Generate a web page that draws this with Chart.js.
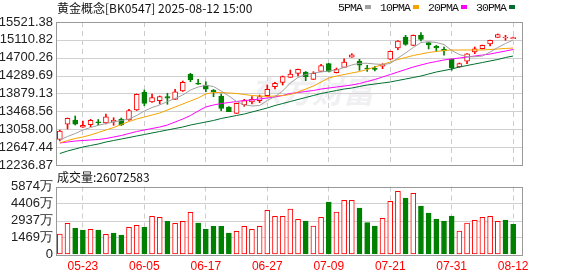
<!DOCTYPE html>
<html>
<head>
<meta charset="utf-8">
<script src="https://cdn.jsdelivr.net/npm/chart.js@4.4.1/dist/chart.umd.min.js"></script>
<style>
  body { margin: 0; background: #fff; }
  #wrap { position: relative; width: 578px; height: 276px; background: #fff; overflow: hidden; }
  #wrap canvas { position: absolute; left: 0; top: 0; }
  .txt { position: absolute; font: 12px "Noto Sans CJK SC", "Liberation Sans", sans-serif; color: #111; white-space: nowrap; line-height: 14px; }
  #maLegend { font: 11.5px "Liberation Mono", monospace; line-height: 14px; letter-spacing: -0.9px; }
  .box { display: inline-block; width: 6px; height: 4px; margin: 0 9px 1px 3px; vertical-align: middle; }
</style>
</head>
<body>
<div id="wrap">
  <canvas id="kChart" width="578" height="276"></canvas>
  <canvas id="volChart" width="578" height="276"></canvas>
  <div class="txt" style="left:57px;top:1px">黄金概念[BK0547] 2025-08-12 15:00</div>
  <div class="txt" id="maLegend" style="left:338px;top:1px"></div>
  <div class="txt" style="left:57px;top:170px">成交量:26072583</div>
</div>
<script>
// trading days shown on the chart
var dates = [
  "05-20", "05-21", "05-22", "05-23", "05-26", "05-27", "05-28", "05-29", "05-30", "06-03",
  "06-04", "06-05", "06-06", "06-09", "06-10", "06-11", "06-12", "06-13", "06-16", "06-17",
  "06-18", "06-19", "06-20", "06-23", "06-24", "06-25", "06-26", "06-27", "06-30", "07-01",
  "07-02", "07-03", "07-04", "07-07", "07-08", "07-09", "07-10", "07-11", "07-14", "07-15",
  "07-16", "07-17", "07-18", "07-21", "07-22", "07-23", "07-24", "07-25", "07-28", "07-29",
  "07-30", "07-31", "08-01", "08-04", "08-05", "08-06", "08-07", "08-08", "08-11", "08-12",
];
var tickDates = ["05-23", "06-05", "06-17", "06-27", "07-09", "07-21", "07-31", "08-12"];

// daily candles (index points)
var opens = [
  12822, 13172, 13270, 13103, 13162, 13224, 13201, 13224, 13293, 13270,
  13500, 13907, 13684, 13714, 13806, 13746, 13936, 14320, 14113, 14074,
  13959, 13822, 13562, 13424, 13622, 13684, 13714, 13829, 14035, 14136,
  14251, 14343, 14373, 14205, 14389, 14564, 14357, 14481, 14711, 14619,
  14465, 14458, 14504, 14665, 14924, 15177, 14986, 15216, 15046, 14963,
  14894, 14665, 14488, 14619, 14832, 14908, 15016, 15170, 15154, 15138,
];
var highs = [
  13041, 13316, 13362, 13247, 13286, 13282, 13408, 13323, 13316, 13516,
  13868, 13959, 13868, 13822, 13884, 13976, 14166, 14343, 14205, 14150,
  13971, 13868, 13580, 13661, 13746, 13806, 13845, 14074, 14136, 14281,
  14419, 14442, 14384, 14380, 14550, 14573, 14465, 14678, 14793, 14665,
  14527, 14504, 14564, 14855, 15096, 15216, 15223, 15276, 15050, 14986,
  14947, 14672, 14580, 14798, 14947, 14993, 15108, 15246, 15216, 15177,
];
var lows = [
  12788, 13064, 13155, 13098, 13116, 13155, 13178, 13149, 13144, 13259,
  13489, 13599, 13672, 13638, 13631, 13741, 13925, 14150, 14090, 13920,
  13806, 13484, 13461, 13420, 13585, 13638, 13668, 13822, 13982, 14074,
  14246, 14281, 14173, 14200, 14384, 14373, 14350, 14476, 14711, 14412,
  14389, 14396, 14449, 14660, 14885, 14986, 14977, 15085, 14901, 14848,
  14757, 14412, 14481, 14564, 14793, 14901, 14970, 15165, 15101, 15138,
];
var closes = [
  13018, 13309, 13172, 13149, 13263, 13208, 13346, 13263, 13155, 13484,
  13861, 13654, 13783, 13806, 13769, 13920, 14136, 14189, 14095, 13976,
  13920, 13539, 13461, 13654, 13714, 13746, 13806, 13976, 14113, 14265,
  14327, 14435, 14265, 14343, 14518, 14389, 14435, 14603, 14770, 14527,
  14442, 14435, 14550, 14848, 15085, 15009, 15216, 15124, 14993, 14924,
  14855, 14465, 14564, 14793, 14908, 14986, 15101, 15230, 15177, 15161,
];

// moving averages
var ma5 = [
  12811, 12891, 12960, 13041, 13098, 13149, 13190, 13224, 13259, 13293,
  13374, 13477, 13557, 13615, 13695, 13764, 13845, 13959, 14028, 14067,
  14040, 13936, 13822, 13695, 13619, 13592, 13603, 13718, 13810, 13936,
  14120, 14247, 14315, 14350, 14373, 14396, 14419, 14476, 14534, 14573,
  14573, 14557, 14545, 14568, 14694, 14809, 14936, 15050, 15069, 15050,
  15004, 14867, 14775, 14724, 14724, 14740, 14832, 14936, 15027, 15108,
];
var ma10 = [
  12742, 12799, 12845, 12880, 12926, 12983, 13041, 13098, 13167, 13236,
  13293, 13339, 13385, 13431, 13500, 13569, 13638, 13707, 13776, 13868,
  13902, 13902, 13891, 13879, 13856, 13833, 13822, 13810, 13822, 13833,
  13856, 13913, 13982, 14051, 14143, 14235, 14281, 14315, 14350, 14384,
  14430, 14488, 14545, 14603, 14660, 14706, 14752, 14786, 14821, 14844,
  14867, 14878, 14878, 14878, 14878, 14878, 14890, 14901, 14913, 14924,
];
var ma20 = [
  12742, 12765, 12788, 12799, 12811, 12822, 12845, 12880, 12914, 12960,
  13006, 13041, 13075, 13110, 13155, 13224, 13293, 13374, 13477, 13569,
  13615, 13649, 13672, 13695, 13718, 13730, 13753, 13776, 13799, 13833,
  13879, 13902, 13925, 13948, 13982, 14005, 14028, 14051, 14074, 14109,
  14155, 14201, 14258, 14315, 14373, 14430, 14488, 14534, 14580, 14614,
  14649, 14672, 14694, 14717, 14740, 14763, 14786, 14821, 14855, 14890,
];
var ma30 = [
  12501, 12558, 12604, 12650, 12685, 12719, 12765, 12799, 12834, 12868,
  12903, 12937, 12972, 13006, 13041, 13075, 13110, 13155, 13190, 13224,
  13259, 13305, 13339, 13374, 13408, 13454, 13500, 13546, 13603, 13649,
  13695, 13741, 13787, 13833, 13879, 13913, 13948, 13982, 14005, 14040,
  14074, 14097, 14120, 14143, 14178, 14212, 14246, 14281, 14327, 14373,
  14407, 14442, 14488, 14522, 14557, 14591, 14626, 14660, 14706, 14740,
];

// volume, in units of 万 (10 000)
var volumes = [
  1771, 2696, 2264, 2117, 2177, 2117, 1745, 1858, 1685, 2350,
  2523, 2350, 3300, 3214, 2868, 2696, 2868, 3646, 2722, 2203,
  2436, 2436, 1858, 2004, 2436, 2177, 2436, 3819, 3300, 3300,
  3920, 3041, 2894, 2462, 3214, 4536, 3672, 4683, 4683, 4018,
  2748, 2462, 3128, 4596, 5460, 4882, 5288, 4190, 3586, 3067,
  2894, 3326, 2030, 2722, 2955, 3214, 3300, 2868, 2981, 2607.26,
];

var priceTicks = [12236.87, 12647.44, 13058.0, 13468.56, 13879.13, 14289.69, 14700.26, 15110.82, 15521.38];
var volTicks = [0, 1469, 2937, 4406, 5874];

var maNames = ["5PMA", "10PMA", "20PMA", "30PMA"];
var maColors = ["#a0a0a0", "#f5a300", "#ff00ff", "#006f2e"];

var RED = "#ff0000";
var GREEN = "#008000";
var AXIS_FONT = { family: "Liberation Sans, Arial, sans-serif", size: 13 };

// candle colour: close vs open; volume colour: close vs previous close
var up = closes.map(function (c, i) { return c >= opens[i]; });
var volUp = closes.map(function (c, i) { return i === 0 ? up[0] : c >= closes[i - 1]; });

// legend: name followed by a little colour block
var legendEl = document.getElementById("maLegend");
maNames.forEach(function (name, i) {
  legendEl.insertAdjacentHTML("beforeend", name + '<span class="box" style="background:' + maColors[i] + '"></span>');
});

// grid + frame, the frame runs a few px past the last candle slot
var framePlugin = {
  id: "frame",
  beforeDatasetsDraw: function (chart, args, opts) {
    var c = chart.ctx, a = chart.chartArea, y = chart.scales.y;
    var right = Math.round(a.right + opts.extra) + 0.5;
    c.save();
    c.strokeStyle = "#d0d0d0";
    c.lineWidth = 1;
    y.ticks.forEach(function (t) {
      var py = Math.round(y.getPixelForValue(t.value)) + 0.5;
      c.beginPath();
      c.moveTo(a.left, py);
      c.lineTo(right, py);
      c.stroke();
    });
    if (opts.watermark) {
      c.fillStyle = "rgba(205, 205, 215, 0.3)";
      c.font = "italic bold 31px 'Noto Sans CJK SC'";
      c.textBaseline = "middle";
      c.fillText(opts.watermark, 250, 91);
    }
    c.restore();
  },
  afterDatasetsDraw: function (chart, args, opts) {
    var c = chart.ctx, a = chart.chartArea;
    var left = Math.round(a.left) + 0.5, top = Math.round(a.top) + 0.5;
    var right = Math.round(a.right + opts.extra) + 0.5, bottom = Math.round(a.bottom) + 0.5;
    c.save();
    c.strokeStyle = "#999";
    c.lineWidth = 1;
    c.strokeRect(left, top, right - left, bottom - top);
    c.restore();
  },
};

function dateTicks(scale) {
  scale.ticks = tickDates.map(function (d) { return { value: dates.indexOf(d) }; });
}

var kCtx = document.getElementById("kChart").getContext("2d");
var kChart = new Chart(kCtx, {
  type: "bar",
  data: {
    labels: dates,
    datasets: [
      // moving average lines on top
      { type: "line", data: ma5, borderColor: maColors[0], borderWidth: 1, pointRadius: 0, order: 0 },
      { type: "line", data: ma10, borderColor: maColors[1], borderWidth: 1, pointRadius: 0, order: 0 },
      { type: "line", data: ma20, borderColor: maColors[2], borderWidth: 1, pointRadius: 0, order: 0 },
      { type: "line", data: ma30, borderColor: maColors[3], borderWidth: 1, pointRadius: 0, order: 0 },
      {
        // candle body: hollow red when up, filled green when down
        data: opens.map(function (o, i) { return [o, closes[i]]; }),
        backgroundColor: up.map(function (u) { return u ? "#ffffff" : GREEN; }),
        borderColor: up.map(function (u) { return u ? RED : GREEN; }),
        borderWidth: 1,
        borderSkipped: false,
        barThickness: 5,
        minBarLength: 1,
        grouped: false,
        order: 1,
      },
      {
        // high-low wick
        data: lows.map(function (l, i) { return [l, highs[i]]; }),
        backgroundColor: up.map(function (u) { return u ? RED : GREEN; }),
        barThickness: 1,
        grouped: false,
        order: 2,
      },
    ],
  },
  options: {
    responsive: false,
    animation: false,
    devicePixelRatio: 1,
    events: [],
    layout: { padding: { left: 0, right: 61, top: 22, bottom: 111 } },
    plugins: {
      legend: { display: false },
      tooltip: { enabled: false },
      frame: { extra: 5, watermark: "东方财富" },
    },
    scales: {
      x: {
        offset: true,
        grid: { offset: false, color: "#cccccc", drawTicks: false },
        border: { display: false, dash: [5, 4] },
        ticks: { display: false },
        afterBuildTicks: dateTicks,
        afterFit: function (scale) { scale.height = 0; },
      },
      y: {
        min: priceTicks[0],
        max: priceTicks[priceTicks.length - 1],
        afterBuildTicks: function (scale) {
          scale.ticks = priceTicks.map(function (v) { return { value: v }; });
        },
        afterFit: function (scale) { scale.width = 56; },
        grid: { drawOnChartArea: false, drawTicks: false },
        border: { display: false },
        ticks: {
          autoSkip: false,
          padding: 3,
          color: "#222",
          font: AXIS_FONT,
          callback: function (v) { return v.toFixed(2); },
        },
      },
    },
  },
  plugins: [framePlugin],
});

var vCtx = document.getElementById("volChart").getContext("2d");
var volChart = new Chart(vCtx, {
  type: "bar",
  data: {
    labels: dates,
    datasets: [
      {
        data: volumes,
        backgroundColor: volUp.map(function (u) { return u ? "#ffffff" : GREEN; }),
        borderColor: volUp.map(function (u) { return u ? RED : GREEN; }),
        borderWidth: 1,
        borderSkipped: false,
        barThickness: 5,
      },
    ],
  },
  options: {
    responsive: false,
    animation: false,
    devicePixelRatio: 1,
    events: [],
    layout: { padding: { left: 0, right: 61, top: 186.5, bottom: 0 } },
    plugins: {
      legend: { display: false },
      tooltip: { enabled: false },
      frame: { extra: 5 },
    },
    scales: {
      x: {
        offset: true,
        grid: { offset: false, color: "#cccccc", drawTicks: false },
        border: { display: false, dash: [5, 4] },
        afterBuildTicks: dateTicks,
        afterFit: function (scale) { scale.height = 21.5; },
        ticks: {
          autoSkip: false,
          padding: 5,
          maxRotation: 0,
          color: RED,
          font: { family: "Liberation Sans, Arial, sans-serif", size: 12 },
        },
      },
      y: {
        min: 0,
        max: volTicks[volTicks.length - 1],
        afterBuildTicks: function (scale) {
          scale.ticks = volTicks.map(function (v) { return { value: v }; });
        },
        afterFit: function (scale) { scale.width = 56; },
        grid: { drawOnChartArea: false, drawTicks: false },
        border: { display: false },
        ticks: {
          autoSkip: false,
          padding: 3,
          color: "#222",
          font: AXIS_FONT,
          callback: function (v) { return v === 0 ? "0" : v + "万"; },
        },
      },
    },
  },
  plugins: [framePlugin],
});
</script>
</body>
</html>
